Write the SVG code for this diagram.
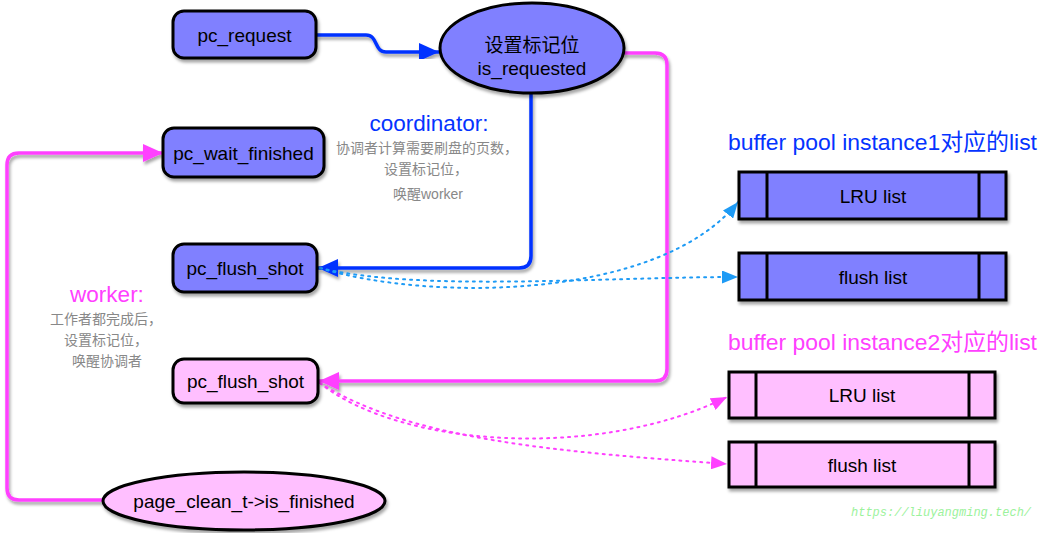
<svg xmlns="http://www.w3.org/2000/svg" width="1041" height="533" viewBox="0 0 1041 533">
<style>
.t{font-family:"Liberation Sans","Noto Sans CJK SC",sans-serif;font-size:19px;fill:#000;text-anchor:middle;dominant-baseline:central}
.b{fill:#8080FF;stroke:#000;stroke-width:3}
.p{fill:#FFBFFF;stroke:#000;stroke-width:3}
.g{font-family:"Liberation Sans","Noto Sans CJK SC",sans-serif;font-size:14px;fill:#888;text-anchor:middle;dominant-baseline:central}
.h{font-family:"Liberation Sans","Noto Sans CJK SC",sans-serif;font-size:22.5px;text-anchor:middle;dominant-baseline:central}
.ti{font-family:"Liberation Sans","Noto Sans CJK SC",sans-serif;font-size:22.5px;dominant-baseline:central}
.cb{fill:none;stroke:#0433FF;stroke-width:3.5}
.cm{fill:none;stroke:#FF40FF;stroke-width:3.5}
.db{fill:none;stroke:#1E9BF5;stroke-width:2;stroke-dasharray:2 5;stroke-linecap:round}
.dm{fill:none;stroke:#FF40FF;stroke-width:2;stroke-dasharray:2 5;stroke-linecap:round}
.sh{filter:url(#sh)}
</style>
<defs>
<filter id="sh" x="-20%" y="-20%" width="140%" height="160%">
<feDropShadow dx="1.5" dy="3" stdDeviation="1.8" flood-color="#000" flood-opacity="0.35"/>
</filter>
<marker id="ab" markerUnits="userSpaceOnUse" markerWidth="20" markerHeight="18" refX="20" refY="9" orient="auto"><path d="M0,0 L20,9 L0,18 z" fill="#0433FF"/></marker>
<marker id="am" markerUnits="userSpaceOnUse" markerWidth="20" markerHeight="18" refX="20" refY="9" orient="auto"><path d="M0,0 L20,9 L0,18 z" fill="#FF40FF"/></marker>
<marker id="adb" markerUnits="userSpaceOnUse" markerWidth="16" markerHeight="13" refX="16" refY="6.5" orient="auto"><path d="M0,0 L16,6.5 L0,13 z" fill="#1E9BF5"/></marker>
<marker id="adm" markerUnits="userSpaceOnUse" markerWidth="16" markerHeight="13" refX="16" refY="6.5" orient="auto"><path d="M0,0 L16,6.5 L0,13 z" fill="#FF40FF"/></marker>
</defs>
<rect width="1041" height="533" fill="#fff"/>

<g id="connectors">
<path class="cb sh" d="M316,35 H366 C378,35 374,52 386,52 H439" marker-end="url(#ab)"/>
<path class="cb sh" d="M531,93 V256 Q531,268 519,268 H318" marker-end="url(#ab)"/>
<path class="cb sh" d="M241,244 V178" marker-end="url(#ab)"/>
<path class="cb sh" d="M241,128 V59" marker-end="url(#ab)"/>
<path class="cm sh" d="M623,53 H655 Q667,53 667,65 V369 Q667,381 655,381 H319" marker-end="url(#am)"/>
<path class="cm sh" d="M243,403 V472" marker-end="url(#am)"/>
<path class="cm sh" d="M104,500 H19 Q7,500 7,488 V165 Q7,153 19,153 H163" marker-end="url(#am)"/>
<path class="db" d="M320,268 C430,302 660,300 738,202" marker-end="url(#adb)"/>
<path class="db" d="M320,268 C420,292 600,277 738,277" marker-end="url(#adb)"/>
<path class="dm" d="M320,383 C400,448 600,460 727,397" marker-end="url(#adm)"/>
<path class="dm" d="M320,383 C410,440 560,452 727,464" marker-end="url(#adm)"/>
</g>

<g id="pc_request">
<rect class="b sh" x="173" y="11" width="143" height="47" rx="11"/>
<text class="t" x="244.5" y="35">pc_request</text>
</g>
<g id="is_requested">
<ellipse class="b sh" cx="532" cy="48" rx="92" ry="45"/>
<text class="t" x="532" y="45">设置标记位</text>
<text class="t" x="532" y="68">is_requested</text>
</g>
<g id="pc_wait_finished">
<rect class="b sh" x="163" y="128" width="161" height="49" rx="11"/>
<text class="t" x="243.5" y="153">pc_wait_finished</text>
</g>
<g id="pc_flush_shot_1">
<rect class="b sh" x="173" y="244" width="144" height="48" rx="11"/>
<text class="t" x="245" y="268">pc_flush_shot</text>
</g>
<g id="pc_flush_shot_2">
<rect class="p sh" x="173" y="359" width="145" height="44" rx="11"/>
<text class="t" x="245.5" y="381">pc_flush_shot</text>
</g>
<g id="is_finished">
<ellipse class="p sh" cx="244" cy="501" rx="141" ry="29"/>
<text class="t" x="244" y="501">page_clean_t-&gt;is_finished</text>
</g>

<g id="coordinator_note">
<text class="h" x="429" y="123" fill="#0433FF">coordinator:</text>
<text class="g" x="427" y="148">协调者计算需要刷盘的页数，</text>
<text class="g" x="426" y="169">设置标记位，</text>
<text class="g" x="428" y="194">唤醒worker</text>
</g>
<g id="worker_note">
<text class="h" x="107" y="294" fill="#FF40FF">worker:</text>
<text class="g" x="106" y="319">工作者都完成后，</text>
<text class="g" x="106" y="340">设置标记位，</text>
<text class="g" x="107" y="361">唤醒协调者</text>
</g>

<g id="instance1">
<text class="ti" x="728" y="142" fill="#0433FF" textLength="309" lengthAdjust="spacingAndGlyphs">buffer pool instance1对应的list</text>
<g id="lru1">
<rect class="b sh" x="739" y="172" width="267" height="47"/>
<line x1="767" y1="172" x2="767" y2="219" stroke="#000" stroke-width="3"/>
<line x1="979" y1="172" x2="979" y2="219" stroke="#000" stroke-width="3"/>
<text class="t" x="873" y="196">LRU list</text>
</g>
<g id="flush1">
<rect class="b sh" x="739" y="253" width="267" height="47"/>
<line x1="767" y1="253" x2="767" y2="300" stroke="#000" stroke-width="3"/>
<line x1="979" y1="253" x2="979" y2="300" stroke="#000" stroke-width="3"/>
<text class="t" x="873" y="277">flush list</text>
</g>
</g>

<g id="instance2">
<text class="ti" x="728" y="342" fill="#FF40FF" textLength="309" lengthAdjust="spacingAndGlyphs">buffer pool instance2对应的list</text>
<g id="lru2">
<rect class="p sh" x="729" y="372" width="266" height="46"/>
<line x1="756" y1="372" x2="756" y2="418" stroke="#000" stroke-width="3"/>
<line x1="969" y1="372" x2="969" y2="418" stroke="#000" stroke-width="3"/>
<text class="t" x="862" y="395">LRU list</text>
</g>
<g id="flush2">
<rect class="p sh" x="729" y="442" width="266" height="45"/>
<line x1="756" y1="442" x2="756" y2="487" stroke="#000" stroke-width="3"/>
<line x1="969" y1="442" x2="969" y2="487" stroke="#000" stroke-width="3"/>
<text class="t" x="862" y="465">flush list</text>
</g>
</g>

<text x="851" y="516" font-family="Liberation Mono, monospace" font-size="12" font-style="italic" fill="#9CF29C">https://liuyangming.tech/</text>
</svg>
